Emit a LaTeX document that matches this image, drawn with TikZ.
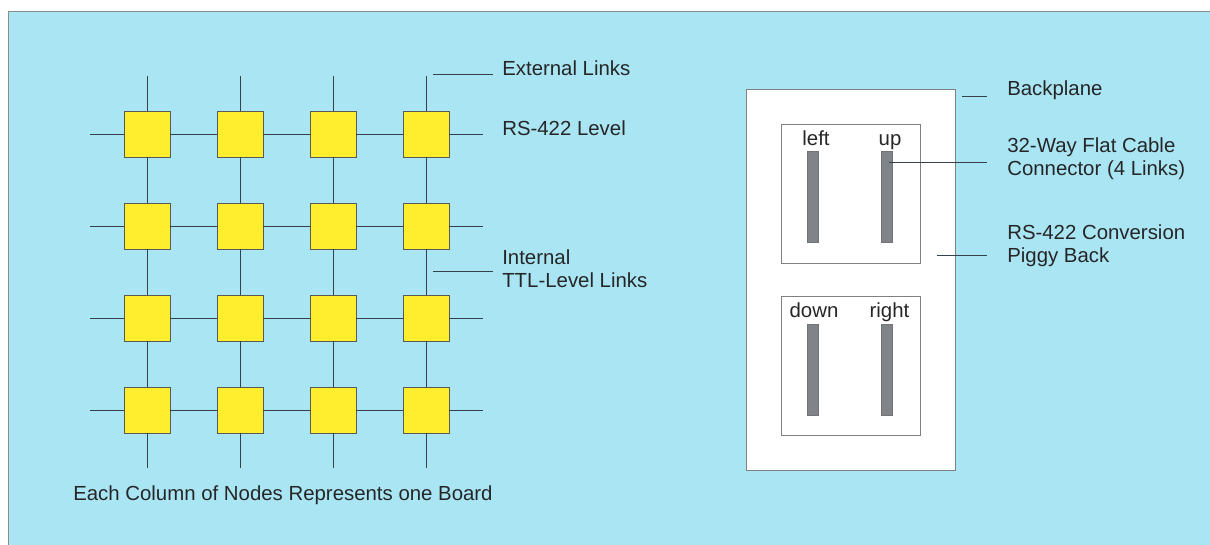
\documentclass[tikz,border=0pt]{standalone}
\usepackage{fontspec}
\setmainfont{Liberation Sans}
\usetikzlibrary{positioning}
\definecolor{sheet}{RGB}{170,229,244}
\definecolor{chip}{RGB}{255,238,46}
\definecolor{wire}{RGB}{55,65,75}
\definecolor{plug}{RGB}{128,132,136}
\begin{document}
\begin{tikzpicture}[x=0.025cm,y=-0.025cm,font=\fontsize{14.5}{16.2}\selectfont,
  tnode/.style={draw=black!65,fill=chip,minimum size=1.15cm,inner sep=0,outer sep=0,line width=0.5pt},
  link/.style={draw=wire,line width=0.55pt},
  lbl/.style={anchor=base west,inner ysep=0,inner xsep=0.225cm,align=left,text=black!85},
  rlbl/.style={lbl,inner xsep=0.5cm},
  port/.style={anchor=base,inner sep=0,text=black!85},
  board/.style={draw=black!50,fill=white,inner sep=0,outer sep=0,line width=0.5pt},
  plugbar/.style={draw=black!55,fill=plug,minimum width=0.28cm,minimum height=2.275cm,inner sep=0,outer sep=0,line width=0.4pt}]
\useasboundingbox (0,0) rectangle (1210,545);
\fill[white] (0,0) rectangle (1210,545);
\fill[sheet] (8,11) rectangle (1210,545);
\draw[black!45,line width=0.7pt] (8,545)--(8,11)--(1210,11);
\foreach \c [count=\i] in {147,240,333,426}{
  \coordinate (t\i) at (\c,76);
  \coordinate (b\i) at (\c,468);
  \foreach \r [count=\j] in {134,226,318,410}
    \node[tnode] (n\i\j) at (\c,\r) {};
}
\foreach \r [count=\j] in {134,226,318,410}{
  \coordinate (w\j) at (90,\r);
  \coordinate (e\j) at (483,\r);
  \draw[link] (w\j)--(n1\j)--(n2\j)--(n3\j)--(n4\j)--(e\j);
}
\foreach \i in {1,...,4}
  \draw[link] (t\i)--(n\i1)--(n\i2)--(n\i3)--(n\i4)--(b\i);
\node[lbl] (ext) at (493,76) {External Links};
\node[lbl] (rs) at (493,136) {RS-422 Level};
\node[lbl] (ttl) at (493,287) {Internal\\TTL-Level Links};
\coordinate (ext-a) at (433,74);
\coordinate (ttl-a) at (433,271);
\draw[link] (ext-a)--(ext.west |- ext-a);
\draw[link] (ttl-a)--(ttl.west |- ttl-a);
\node[anchor=base west,inner sep=0,text=black!85] (cap) at (73,500) {Each Column of Nodes Represents one Board};
\node[board,minimum width=5.225cm,minimum height=9.525cm] (bp) at (850.5,279.5) {};
\node[board,minimum width=3.475cm,minimum height=3.47cm] (pb1) at (850.5,193.5) {};
\node[board,minimum width=3.475cm,minimum height=3.47cm] (pb2) at (850.5,366) {};
\node[plugbar] (bleft) at (813,197) {};
\node[plugbar] (bup) at (887,197) {};
\node[plugbar] (bdown) at (813,369.5) {};
\node[plugbar] (bright) at (887,369.5) {};
\node[port] (lleft) at (816,145) {left};
\node[port] (lup) at (890,145) {up};
\node[port] (ldown) at (814,317) {down};
\node[port] (lright) at (889.5,317) {right};
\node[rlbl] (bpl) at (987,96) {Backplane};
\node[rlbl] (cab) at (987,175) {32-Way Flat Cable\\Connector (4 Links)};
\node[rlbl] (conv) at (987,262) {RS-422 Conversion\\Piggy Back};
\coordinate (bpl-a) at (962,96);
\coordinate (cab-a) at (889,162);
\coordinate (conv-a) at (937,255);
\draw[link,line width=0.4pt] (bpl-a)--(bpl.west |- bpl-a);
\draw[link,line width=0.4pt] (cab-a)--(cab.west |- cab-a);
\draw[link,line width=0.4pt] (conv-a)--(conv.west |- conv-a);
\end{tikzpicture}
\end{document}
